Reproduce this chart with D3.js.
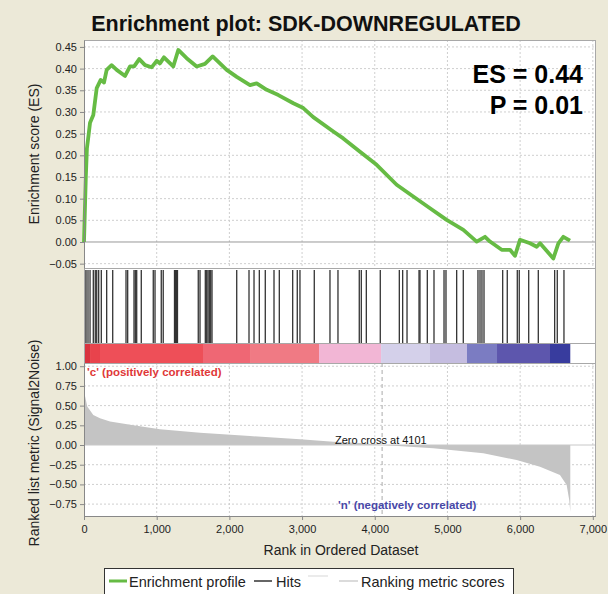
<!DOCTYPE html>
<html><head><meta charset="utf-8">
<script src="https://cdn.jsdelivr.net/npm/d3@7"></script>
<style>html,body{margin:0;padding:0;background:#ece9d8;overflow:hidden}svg{display:block;font-family:Arial,"Liberation Sans",sans-serif}</style>
</head><body><svg id="c" width="608" height="594"></svg>
<script>
const title = "Enrichment plot: SDK-DOWNREGULATED";
const esLabel = "ES = 0.44";
const pLabel = "P = 0.01";
const zeroCross = 4101;
const zeroCrossLabel = "Zero cross at 4101";
const posLabel = "'c' (positively correlated)";
const negLabel = "'n' (negatively correlated)";
const xLabel = "Rank in Ordered Dataset";
const esAxisLabel = "Enrichment score (ES)";
const metricAxisLabel = "Ranked list metric (Signal2Noise)";
const legendLabels = ["Enrichment profile", "Hits", "", "Ranking metric scores"];

const esRanks  = [0,25,40,60,83,128,175,230,275,312,380,450,565,633,690,760,840,930,1000,1045,1100,1160,1228,1297,1412,1550,1664,1770,1963,2101,2284,2376,2514,2674,2880,3017,3154,3430,3567,3797,4026,4301,4530,4760,4989,5219,5402,5517,5585,5746,5861,5929,5998,6136,6228,6274,6457,6526,6594,6686];
const esValues = [0,0.150,0.216,0.243,0.275,0.293,0.355,0.374,0.368,0.397,0.408,0.397,0.383,0.405,0.405,0.422,0.408,0.403,0.418,0.412,0.426,0.416,0.405,0.443,0.424,0.405,0.411,0.428,0.397,0.381,0.362,0.366,0.351,0.339,0.320,0.309,0.288,0.255,0.239,0.208,0.178,0.132,0.105,0.078,0.051,0.028,0.001,0.012,0.001,-0.018,-0.018,-0.032,0.005,-0.003,-0.011,-0.003,-0.038,-0.003,0.012,0.003];

const hitRanks = [10,28,55,83,128,155,175,202,238,312,395,578,601,688,706,725,788,953,977,1063,1090,1245,1259,1273,1286,1572,1596,1669,1688,1706,1724,1743,1761,2101,2270,2339,2412,2494,2614,2687,2871,2934,2971,3168,3384,3494,3787,3815,3884,4076,4338,4384,4444,4609,4622,4723,4815,4953,4980,5127,5218,5420,5448,5475,5503,5760,5823,5961,5988,6118,6250,6475,6511,6603];

const metricRanks  = [0,15,45,128,220,358,680,1045,1596,2284,2972,3430,3800,4101,4806,5494,5952,6273,6548,6640,6676,6690];
const metricValues = [0.66,0.62,0.49,0.38,0.34,0.30,0.25,0.20,0.156,0.114,0.072,0.042,0.025,0.0,-0.042,-0.105,-0.19,-0.275,-0.38,-0.508,-0.70,-0.846];

const bandStarts = [0,83,220,1637,2284,3233,4087,4760,5269,5682,6411];
const bandEnds   = [83,220,1637,2284,3233,4087,4760,5269,5682,6411,6690];
const bandColors = ["#d9333f","#e8434c","#ee4f58","#ef6774","#f07a84","#f2b6d5","#d4d0ea","#c5bde0","#7b7cc2","#5d56ad","#383c9e"];

const xTicks = [0,1000,2000,3000,4000,5000,6000,7000];
const esTicks = [-0.05,0,0.05,0.10,0.15,0.20,0.25,0.30,0.35,0.40,0.45];
const metricTicks = [-0.75,-0.50,-0.25,0,0.25,0.50,0.75,1.00];

const svg = d3.select("#c");
const L = 84, R = 595;
const topY0 = 40, topY1 = 268, hitY1 = 343, barY1 = 363, botY1 = 516;

const x = d3.scaleLinear().domain([0,7030]).range([L,R]);
const yES = d3.scaleLinear().domain([-0.06,0.466]).range([topY1,topY0]);
const yM = d3.scaleLinear().domain([-0.901,1.041]).range([botY1,barY1]);

// white plot background
svg.append("rect").attr("x",L).attr("y",topY0).attr("width",R-L).attr("height",botY1-topY0).attr("fill","#fff");

// gridlines
const grid = svg.append("g").attr("stroke","#cfcfcf").attr("stroke-dasharray","2,2").attr("stroke-width",1);
xTicks.slice(1).forEach(t=>{
  grid.append("line").attr("x1",x(t)).attr("x2",x(t)).attr("y1",topY0).attr("y2",topY1);
  grid.append("line").attr("x1",x(t)).attr("x2",x(t)).attr("y1",barY1).attr("y2",botY1);
});
esTicks.forEach(t=>{ if(t!==0) grid.append("line").attr("x1",L).attr("x2",R).attr("y1",yES(t)).attr("y2",yES(t)); });
metricTicks.forEach(t=>{ if(t!==0) grid.append("line").attr("x1",L).attr("x2",R).attr("y1",yM(t)).attr("y2",yM(t)); });

// zero lines
svg.append("line").attr("x1",L).attr("x2",R).attr("y1",yES(0)).attr("y2",yES(0)).attr("stroke","#999").attr("stroke-width",1);

// metric area
const mData = metricRanks.map((r,i)=>[r,metricValues[i]]);
svg.append("path").datum(mData)
  .attr("d", d3.area().x(d=>x(d[0])).y0(yM(0)).y1(d=>yM(d[1])))
  .attr("fill","#c4c4c4");
svg.append("line").attr("x1",L).attr("x2",R).attr("y1",yM(0)).attr("y2",yM(0)).attr("stroke","#c8c8c8").attr("stroke-width",1);

// zero cross dashed line
svg.append("line").attr("x1",x(zeroCross)).attr("x2",x(zeroCross)).attr("y1",barY1).attr("y2",botY1)
  .attr("stroke","#aaa").attr("stroke-dasharray","4,3").attr("stroke-width",1);

// ES line
const esData = esRanks.map((r,i)=>[r,esValues[i]]);
svg.append("path").datum(esData)
  .attr("d", d3.line().x(d=>x(d[0])).y(d=>yES(d[1])))
  .attr("fill","none").attr("stroke","#66bb44").attr("stroke-width",3.8).attr("stroke-linejoin","round");

// hits
svg.append("g").selectAll("line").data(hitRanks).join("line")
  .attr("x1",d=>x(d)).attr("x2",d=>x(d)).attr("y1",topY1+2).attr("y2",hitY1)
  .attr("stroke","#333").attr("stroke-width",1.3);

// colour bar
svg.append("g").selectAll("rect").data(bandStarts).join("rect")
  .attr("x",(d,i)=>x(d)).attr("width",(d,i)=>x(bandEnds[i])-x(d))
  .attr("y",hitY1).attr("height",barY1-hitY1)
  .attr("fill",(d,i)=>bandColors[i]);

// panel separators and frame
const sep = svg.append("g").attr("stroke","#a8a8a8").attr("stroke-width",1).attr("fill","none");
[topY1,hitY1,barY1].forEach(yv=>sep.append("line").attr("x1",L).attr("x2",R).attr("y1",yv+0.5).attr("y2",yv+0.5));
sep.append("rect").attr("x",L+0.5).attr("y",topY0+0.5).attr("width",R-L).attr("height",botY1-topY0);

// axes
function styleAxis(g){
  g.select(".domain").attr("stroke","#888");
  g.selectAll(".tick line").attr("stroke","#888");
  g.selectAll(".tick text").attr("fill","#222").attr("font-size","11px").attr("font-family","Arial, Liberation Sans, sans-serif");
}
svg.append("g").attr("transform",`translate(${L},0)`)
  .call(d3.axisLeft(yES).tickValues(esTicks).tickFormat(d3.format(".2f")).tickSize(4).tickSizeOuter(0))
  .call(styleAxis);
svg.append("g").attr("transform",`translate(${L},0)`)
  .call(d3.axisLeft(yM).tickValues(metricTicks).tickFormat(d3.format(".2f")).tickSize(4).tickSizeOuter(0))
  .call(styleAxis);
svg.append("g").attr("transform",`translate(0,${botY1})`)
  .call(d3.axisBottom(x).tickValues(xTicks).tickFormat(d3.format(",")).tickSize(4).tickSizeOuter(0))
  .call(styleAxis)
  .call(g=>g.selectAll(".tick text").attr("dy","0.95em"));

// texts
svg.append("text").attr("x",306).attr("y",31).attr("text-anchor","middle")
  .attr("font-size","21.5px").attr("font-weight","bold").attr("fill","#111").text(title);
svg.append("text").attr("x",583).attr("y",83).attr("text-anchor","end")
  .attr("font-size","25px").attr("font-weight","bold").attr("fill","#000").text(esLabel);
svg.append("text").attr("x",583).attr("y",114).attr("text-anchor","end")
  .attr("font-size","25px").attr("font-weight","bold").attr("fill","#000").text(pLabel);
svg.append("text").attr("transform","translate(39,154) rotate(-90)").attr("text-anchor","middle")
  .attr("font-size","14px").attr("fill","#222").text(esAxisLabel);
svg.append("text").attr("transform","translate(39,443) rotate(-90)").attr("text-anchor","middle")
  .attr("font-size","14px").attr("fill","#222").text(metricAxisLabel);
svg.append("text").attr("x",341).attr("y",555).attr("text-anchor","middle")
  .attr("font-size","14px").attr("fill","#222").text(xLabel);
svg.append("text").attr("x",87).attr("y",376).attr("font-size","11.5px").attr("font-weight","bold")
  .attr("fill","#e03838").text(posLabel);
svg.append("text").attr("x",338).attr("y",509).attr("font-size","11.5px").attr("font-weight","bold")
  .attr("fill","#4848a8").text(negLabel);
svg.append("text").attr("x",335).attr("y",444).attr("font-size","11px")
  .attr("fill","#111").text(zeroCrossLabel);

// legend
const lg = svg.append("g");
lg.append("rect").attr("x",104.5).attr("y",568.5).attr("width",409).attr("height",26).attr("fill","#fff").attr("stroke","#333");
const legendItems = [
  {x1:109,x2:127,y:581,color:"#66bb44",w:3,tx:129},
  {x1:254,x2:272,y:581,color:"#333",w:1.5,tx:276},
  {x1:308,x2:328,y:576,color:"#e4e4e4",w:1.5,tx:330},
  {x1:339,x2:358,y:581,color:"#cfcfcf",w:1.5,tx:361}
];
legendItems.forEach((it,i)=>{
  lg.append("line").attr("x1",it.x1).attr("x2",it.x2).attr("y1",it.y).attr("y2",it.y).attr("stroke",it.color).attr("stroke-width",it.w);
  lg.append("text").attr("x",it.tx).attr("y",586.5).attr("font-size","14.5px").attr("fill","#222").text(legendLabels[i]);
});
</script></body></html>
